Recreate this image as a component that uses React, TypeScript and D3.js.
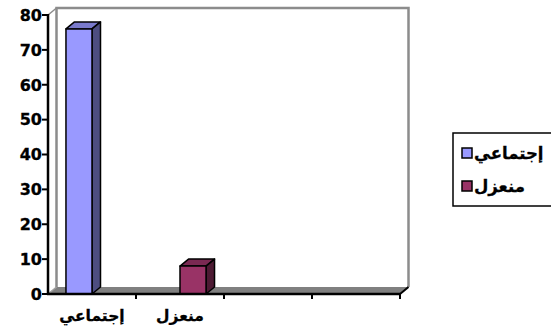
import React from "react";
import * as d3 from "d3";

const categories = ["إجتماعي", "منعزل", "c3", "c4"];
const categoryLabels = ["إجتماعي", "منعزل", "", ""];
const seriesNames = ["إجتماعي", "منعزل"];
const socialValues: (number | null)[] = [76, null, null, null];
const isolatedValues: (number | null)[] = [null, 8, null, null];
const yTicks = [0, 10, 20, 30, 40, 50, 60, 70, 80];

const W = 551;
const H = 336;
const plot = { left: 48, right: 400, top: 15, bottom: 294 };
const DX = 8.5;
const DY = -7;
const FONT = "'DejaVu Sans', Verdana, sans-serif";

const seriesColors = [
  { front: "#9999FF", top: "#7A7ACC", side: "#4D4D80" },
  { front: "#993366", top: "#7A2952", side: "#4D1A33" },
];

export default function App() {
  const y = d3.scaleLinear().domain([0, 80]).range([plot.bottom, plot.top]);
  const x = d3.scaleBand<string>().domain(categories).range([plot.left, plot.right]).paddingInner(0).paddingOuter(0);
  const inner = d3.scaleBand<string>().domain(seriesNames).range([0, x.bandwidth()]).paddingInner(0).paddingOuter(0.69);
  const seriesValues = [socialValues, isolatedValues];

  const bars: React.ReactNode[] = [];
  seriesValues.forEach((vals, si) => {
    vals.forEach((v, ci) => {
      if (v == null) return;
      const x0 = (x(categories[ci]) ?? 0) + (inner(seriesNames[si]) ?? 0);
      const x1 = x0 + inner.bandwidth();
      const yt = y(v);
      const yb = y(0);
      const c = seriesColors[si];
      bars.push(
        <g key={`${si}-${ci}`} stroke="#000" strokeWidth={1.5} strokeLinejoin="round">
          <polygon points={`${x0},${yt} ${x0 + DX},${yt + DY} ${x1 + DX},${yt + DY} ${x1},${yt}`} fill={c.top} />
          <polygon points={`${x1},${yt} ${x1 + DX},${yt + DY} ${x1 + DX},${yb + DY} ${x1},${yb}`} fill={c.side} />
          <rect x={x0} y={yt} width={x1 - x0} height={yb - yt} fill={c.front} />
        </g>
      );
    });
  });

  return (
    <svg width={W} height={H} style={{ position: "absolute", left: 0, top: 0, display: "block", background: "#fff" }}>
      {/* back wall */}
      <polyline
        points={`${plot.left + DX},${y(0) + DY} ${plot.left + DX},${y(80) + DY} ${plot.right + DX},${y(80) + DY} ${plot.right + DX},${y(0) + DY}`}
        fill="none"
        stroke="#8C8C8C"
        strokeWidth={2.5}
      />
      {/* floor */}
      <polygon
        points={`${plot.left},${plot.bottom} ${plot.left + DX},${plot.bottom + DY} ${plot.right + DX},${plot.bottom + DY} ${plot.right},${plot.bottom}`}
        fill="#808080"
      />
      <line x1={plot.left} y1={y(80)} x2={plot.left + DX} y2={y(80) + DY} stroke="#8C8C8C" strokeWidth={1.5} />
      <line x1={plot.left} y1={plot.bottom} x2={plot.left + DX} y2={plot.bottom + DY} stroke="#A0A0A0" strokeWidth={1.5} />
      {bars}
      {/* y axis */}
      <line x1={plot.left} y1={y(80) - 1} x2={plot.left} y2={plot.bottom + 1} stroke="#000" strokeWidth={2.5} />
      {yTicks.map((t) => (
        <g key={t}>
          <line x1={plot.left - 6} x2={plot.left} y1={y(t)} y2={y(t)} stroke="#000" strokeWidth={2} />
          <text x={plot.left - 6} y={y(t)} dy="0.36em" textAnchor="end" fontFamily={FONT} fontWeight="bold" fontSize={16} fill="#000" stroke="#000" strokeWidth={0.3}>
            {t}
          </text>
        </g>
      ))}
      {/* x axis */}
      <line x1={plot.left - 1} x2={plot.right} y1={plot.bottom} y2={plot.bottom} stroke="#000" strokeWidth={2.5} />
      <line x1={plot.right} y1={plot.bottom} x2={plot.right + DX} y2={plot.bottom + DY} stroke="#000" strokeWidth={2} />
      {categories.map((c) => (
        <line key={c} x1={(x(c) ?? 0) + x.bandwidth()} x2={(x(c) ?? 0) + x.bandwidth()} y1={plot.bottom} y2={plot.bottom + 5} stroke="#000" strokeWidth={2} />
      ))}
      {categories.map((c, i) => (
        <text key={`l${c}`} x={(x(c) ?? 0) + x.bandwidth() / 2} y={321} textAnchor="middle" fontFamily={FONT} fontWeight="bold" fontSize={15.5} fill="#000" stroke="#000" strokeWidth={0.3} direction="rtl">
          {categoryLabels[i]}
        </text>
      ))}
      {/* legend */}
      <rect x={453} y={133} width={110} height={73} fill="#fff" stroke="#000" strokeWidth={1.5} />
      {seriesNames.map((s, i) => (
        <g key={s}>
          <rect x={462} y={148 + i * 33} width={10} height={10} fill={seriesColors[i].front} stroke="#000" strokeWidth={1.5} />
          <text x={474} y={153 + i * 33} dy="0.35em" textAnchor="start" fontFamily={FONT} fontWeight="bold" fontSize={16.5} fill="#000" stroke="#000" strokeWidth={0.3}>
            {s}
          </text>
        </g>
      ))}
    </svg>
  );
}
